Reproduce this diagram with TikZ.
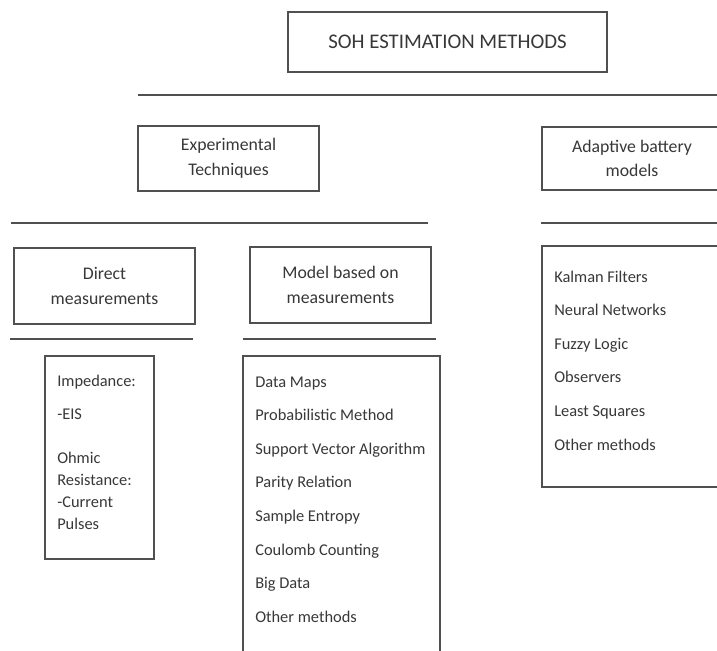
\documentclass[tikz,border=0pt]{standalone}
\usepackage{fontspec}
\setmainfont{Carlito}
\definecolor{linegray}{HTML}{505050}
\definecolor{textgray}{HTML}{383838}
\begin{document}
\begin{tikzpicture}[x=0.75pt,y=-0.75pt,
  box/.style={draw=linegray, line width=0.9pt, rectangle, inner sep=0pt},
  rule/.style={draw=linegray, line width=0.9pt},
  lbl/.style={font=\fontsize{13.3}{18.5}\selectfont, text=textgray, align=center},
  ttl/.style={font=\fontsize{15.6}{19}\selectfont, text=textgray},
  item/.style={font=\fontsize{12.3}{15}\selectfont, text=textgray, anchor=base west, inner sep=0pt}]
\useasboundingbox (0,0) rectangle (717,650);
\clip (0,0) rectangle (717,650);
\fill[white] (0,0) rectangle (717,650);

% boxes
\node[box, minimum width=239.25pt, minimum height=45pt] (soh) at (447.5,42) {};
\node[box, minimum width=135.75pt, minimum height=48.75pt] (exp) at (228.5,158.5) {};
\node[box, minimum width=135pt, minimum height=47.25pt] (adp) at (632,158.5) {};
\node[box, minimum width=135.75pt, minimum height=57pt] (dir) at (104.5,286) {};
\node[box, minimum width=135.75pt, minimum height=57pt] (mod) at (340.5,285) {};
\node[box, minimum width=81.75pt, minimum height=152.25pt] (implist) at (99.5,457.5) {};
\node[box, minimum width=147.75pt, minimum height=243pt] (modlist) at (341.5,518) {};
\node[box, minimum width=163.5pt, minimum height=180.75pt] (adplist) at (651,366.5) {};

% labels
\node[ttl] (sohT) at (soh.center) {SOH ESTIMATION METHODS};
\node[lbl] (expT) at (exp.center) {Experimental\\Techniques};
\node[lbl] (adpT) at (adp.center) {Adaptive battery\\models};
\node[lbl] (dirT) at (dir.center) {Direct\\measurements};
\node[lbl] (modT) at (mod.center) {Model based on\\measurements};

% rules
\draw[rule] (138,95) -- (730,95);
\draw[rule] (11,223) -- (428,223);
\draw[rule] (541,223) -- (730,223);
\draw[rule] (10,339) -- (193,339);
\draw[rule] (243,339) -- (436,339);

% direct list
\node[item] (i1) at (57,386) {Impedance:};
\node[item] (i2) at (57,419) {-EIS};
\node[item] (i3) at (57,463) {Ohmic};
\node[item] (i4) at (57,485) {Resistance:};
\node[item] (i5) at (57,507) {-Current};
\node[item] (i6) at (57,529) {Pulses};

% model list
\foreach \t [count=\k] in {Data Maps, Probabilistic Method, Support Vector Algorithm, Parity Relation, Sample Entropy, Coulomb Counting, Big Data, Other methods}
  \node[item] (m\k) at (255,{387+33.6*(\k-1)}) {\t};

% adaptive list
\foreach \t [count=\k] in {Kalman Filters, Neural Networks, Fuzzy Logic, Observers, Least Squares, Other methods}
  \node[item] (a\k) at (554,{282+33.6*(\k-1)}) {\t};
\end{tikzpicture}
\end{document}
